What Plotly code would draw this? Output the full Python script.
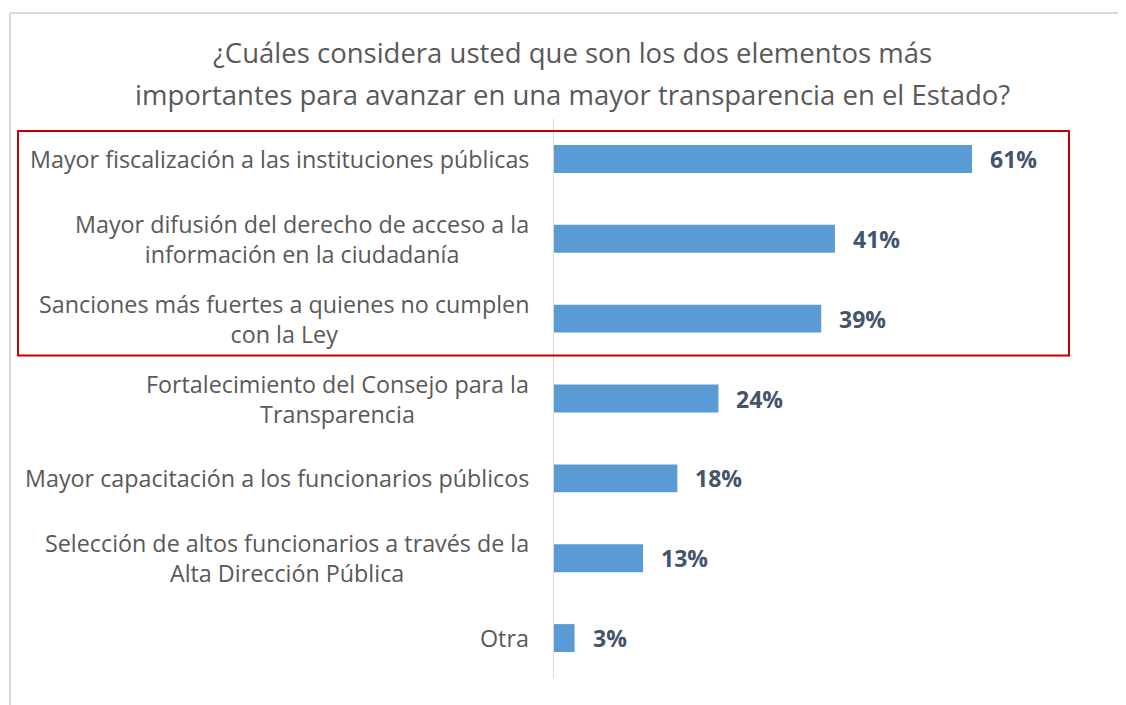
import plotly.graph_objects as go

categories = [
    "Mayor fiscalización a las instituciones públicas",
    "Mayor difusión del derecho de acceso a la<br>información en la ciudadanía",
    "Sanciones más fuertes a quienes no cumplen<br>con la Ley",
    "Fortalecimiento del Consejo para la<br>Transparencia",
    "Mayor capacitación a los funcionarios públicos",
    "Selección de altos funcionarios a través de la<br>Alta Dirección Pública",
    "Otra",
]
values = [61, 41, 39, 24, 18, 13, 3]
value_labels = ["61%", "41%", "39%", "24%", "18%", "13%", "3%"]
title_lines = [
    "¿Cuáles considera usted que son los dos elementos más",
    "importantes para avanzar en una mayor transparencia en el Estado?",
]

OFF = 8  # page body margin
W, H = 1126 - OFF, 705 - OFF
ML, MT = 554 - OFF, 119 - OFF
MR = W - (1102 - OFF)
MB = H - (678 - OFF)
PW = W - ML - MR
PH = H - MT - MB
FONT = "Open Sans"
BAR = "#5B9BD5"
GREY_TXT = "#595959"
VAL_TXT = "#44546A"

def px_x(p):
    return (p - OFF - ML) / PW

def px_y(p):
    return 1 - (p - OFF - MT) / PH

ycat = list(range(len(categories)))

fig = go.Figure()
fig.add_trace(go.Bar(
    x=values, y=ycat, orientation="h",
    marker=dict(color=BAR, line=dict(width=0)),
    width=0.35, hoverinfo="skip",
))

annotations = []
for i, (c, v, t) in enumerate(zip(categories, values, value_labels)):
    annotations.append(dict(
        x=0, y=i, xref="x", yref="y", text=c, showarrow=False,
        xanchor="right", yanchor="middle", align="center", xshift=-23,
        font=dict(family=FONT, size=23.3, color=GREY_TXT),
    ))
    annotations.append(dict(
        x=v, y=i, xref="x", yref="y", text="<b>%s</b>" % t, showarrow=False,
        xanchor="left", yanchor="middle", xshift=16,
        font=dict(family=FONT, size=23, color=VAL_TXT),
    ))
for k, line in enumerate(title_lines):
    annotations.append(dict(
        x=px_x(572), y=px_y(53 + 42 * k), xref="paper", yref="paper",
        text=line, showarrow=False, xanchor="center", yanchor="middle",
        font=dict(family=FONT, size=27.5, color=GREY_TXT),
    ))

shapes = [
    dict(type="line", xref="paper", yref="paper", x0=px_x(10), x1=px_x(1130),
         y0=px_y(13), y1=px_y(13), line=dict(color="#D9D9D9", width=2)),
    dict(type="line", xref="paper", yref="paper", x0=px_x(10), x1=px_x(10),
         y0=px_y(13), y1=px_y(710), line=dict(color="#D9D9D9", width=2)),
    dict(type="rect", xref="paper", yref="y", x0=px_x(18), x1=px_x(1069),
         y0=-0.35, y1=2.46, line=dict(color="#C00000", width=2),
         fillcolor="rgba(0,0,0,0)"),
]

fig.update_layout(
    width=W, height=H,
    margin=dict(l=ML, r=MR, t=MT, b=MB, pad=0),
    paper_bgcolor="white", plot_bgcolor="white",
    showlegend=False,
    xaxis=dict(range=[0, PW / (418 / 61)], visible=False, fixedrange=True),
    yaxis=dict(range=[len(categories) - 0.5, -0.5], showticklabels=False,
               showgrid=False, zeroline=False, showline=True,
               linecolor="#D9D9D9", linewidth=1, ticks="", fixedrange=True),
    annotations=annotations,
    shapes=shapes,
)

fig.write_html("out.html", config={"displayModeBar": False})
